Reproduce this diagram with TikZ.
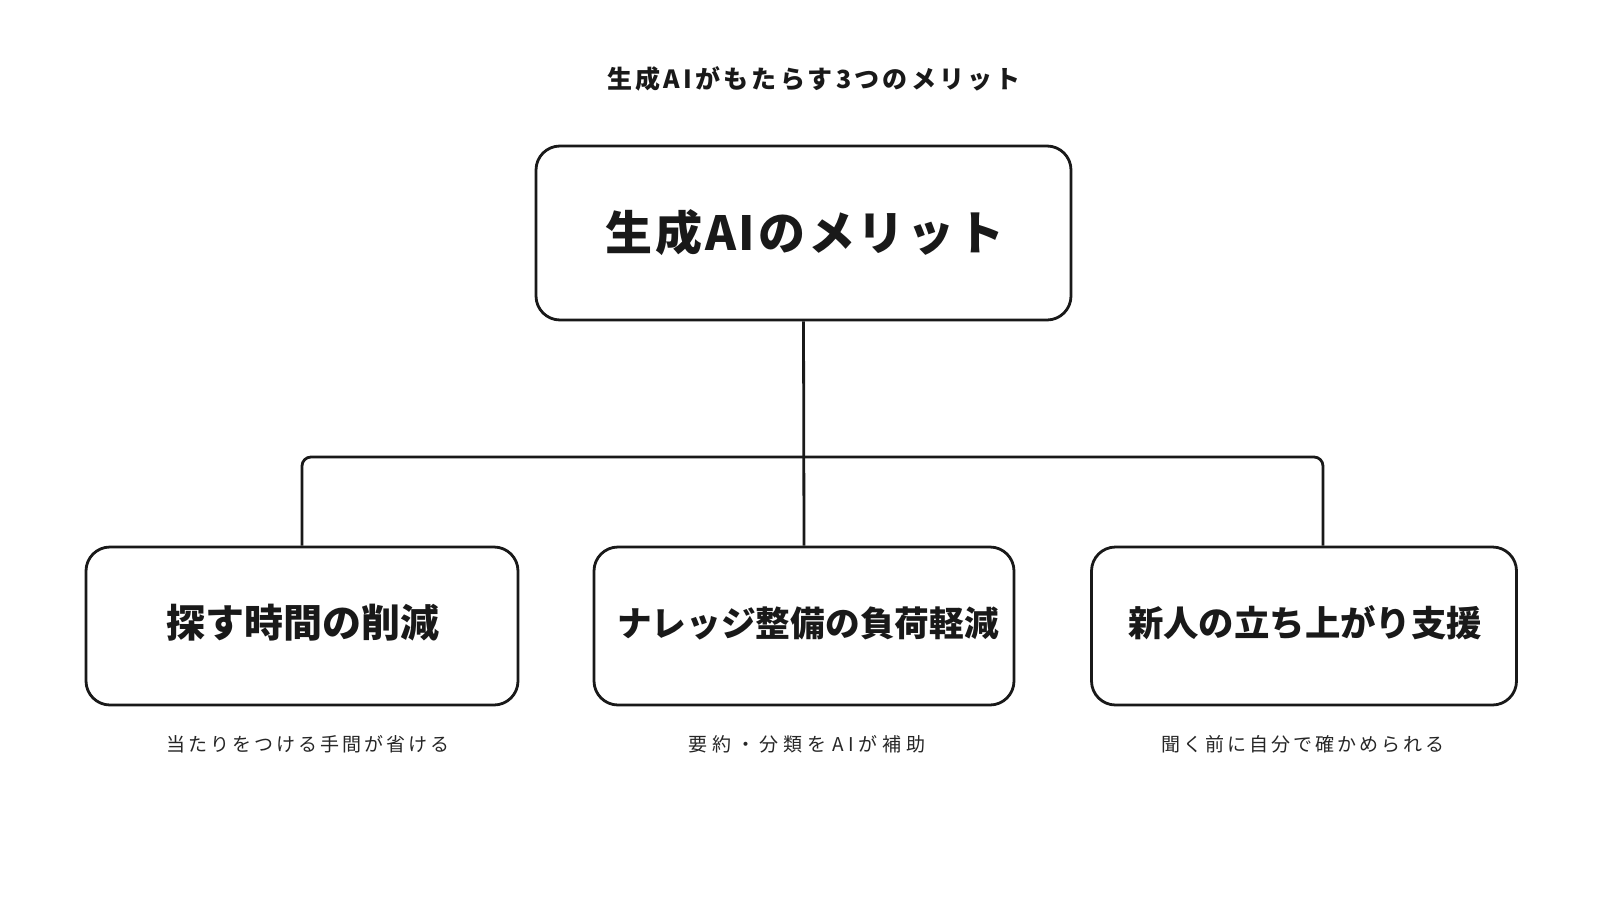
\documentclass[tikz,border=0pt]{standalone}
\usepackage{fontspec}
\newfontfamily\jptitle[LetterSpace=13]{Noto Sans CJK JP}
\newfontfamily\jphead[LetterSpace=6]{Noto Sans CJK JP}
\newfontfamily\jpbox[LetterSpace=0]{Noto Sans CJK JP}
\newfontfamily\jpsub[LetterSpace=16]{Noto Sans CJK JP}
\newfontfamily\jpsubwide[LetterSpace=25]{Noto Sans CJK JP}
\begin{document}
\begin{tikzpicture}[x=1pt,y=-1pt,
  box/.style={draw=black!90, line width=2.8pt, rounded corners=24pt, fill=white, inner sep=0pt},
  conn/.style={draw=black!90, line width=2.8pt},
  boxtext/.style={font=\jpbox\bfseries\fontsize{39pt}{44pt}\selectfont, text=black!90},
  subtext/.style={font=\jpsub\fontsize{19pt}{23pt}\selectfont, text=black!85},
]
\useasboundingbox (0,0) rectangle (1600,900);
\fill[white] (0,0) rectangle (1600,900);

\node[font=\jptitle\bfseries\fontsize{25pt}{29pt}\selectfont, text=black!90] (title) at (814,79) {生成AIがもたらす3つのメリット};

\node[box, minimum width=535pt, minimum height=174pt] (top) at (803.5,233) {};
\node[font=\jphead\bfseries\fontsize{47pt}{52pt}\selectfont, text=black!90] (toptext) at (805,233) {生成AIのメリット};

\node[box, minimum width=432pt, minimum height=158pt] (left) at (302,626) {};
\node[box, minimum width=420pt, minimum height=158pt] (mid) at (804,626) {};
\node[box, minimum width=425pt, minimum height=158pt] (right) at (1304,626) {};

\node[boxtext] (lt) at (303,623) {探す時間の削減};
\node[boxtext, font=\jpbox\bfseries\fontsize{34.7pt}{40pt}\selectfont] (mt) at (808,623) {ナレッジ整備の負荷軽減};
\node[boxtext, font=\jpbox\bfseries\fontsize{35.4pt}{40pt}\selectfont] (rt) at (1305,623) {新人の立ち上がり支援};

\node[subtext] (ls) at (308,744) {当たりをつける手間が省ける};
\node[subtext, font=\jpsubwide\fontsize{19pt}{23pt}\selectfont] (ms) at (807,744) {要約・分類を\hspace{6pt}AIが補助};
\node[subtext] (rs) at (1303,744) {聞く前に自分で確かめられる};

\coordinate (jr) at (1323,457);
\draw[conn] (top.south) -- (mid.north);
\draw[conn, rounded corners=9pt] (left.north) |- (jr) -- (jr |- right.north);
\end{tikzpicture}
\end{document}
